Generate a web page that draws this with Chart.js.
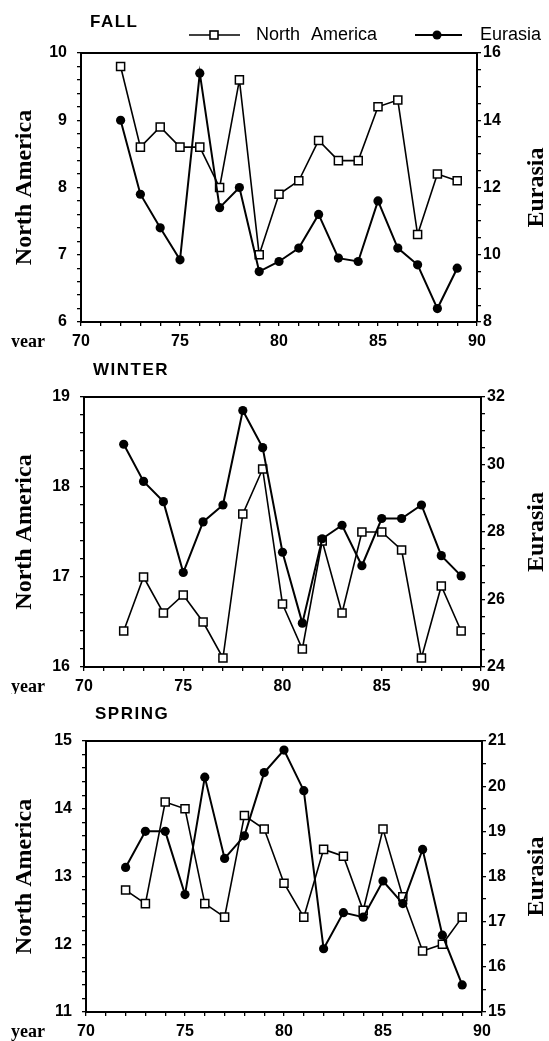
<!DOCTYPE html>
<html>
<head>
<meta charset="utf-8">
<script src="https://cdn.jsdelivr.net/npm/chart.js@4.4.1/dist/chart.umd.min.js"></script>
<style>
html, body { margin: 0; padding: 0; background: #fff; }
canvas { display: block; }
</style>
</head>
<body>
<canvas id="fall" width="549" height="347"></canvas>
<canvas id="winter" width="549" height="347"></canvas>
<canvas id="spring" width="549" height="347"></canvas>
<script>
const years = [72, 73, 74, 75, 76, 77, 78, 79, 80, 81, 82, 83, 84, 85, 86, 87, 88, 89];
const yearTicks = [70, 75, 80, 85, 90];

const fallNorthAmerica = [9.8, 8.6, 8.9, 8.6, 8.6, 8.0, 9.6, 7.0, 7.9, 8.1, 8.7, 8.4, 8.4, 9.2, 9.3, 7.3, 8.2, 8.1];
const fallEurasia = [14.0, 11.8, 10.8, 9.85, 15.4, 11.4, 12.0, 9.5, 9.8, 10.2, 11.2, 9.9, 9.8, 11.6, 10.2, 9.7, 8.4, 9.6];
const fallNATicks = [6, 7, 8, 9, 10];
const fallEUTicks = [8, 10, 12, 14, 16];

const winterNorthAmerica = [16.4, 17.0, 16.6, 16.8, 16.5, 16.1, 17.7, 18.2, 16.7, 16.2, 17.4, 16.6, 17.5, 17.5, 17.3, 16.1, 16.9, 16.4];
const winterEurasia = [30.6, 29.5, 28.9, 26.8, 28.3, 28.8, 31.6, 30.5, 27.4, 25.3, 27.8, 28.2, 27.0, 28.4, 28.4, 28.8, 27.3, 26.7];
const winterNATicks = [16, 17, 18, 19];
const winterEUTicks = [24, 26, 28, 30, 32];

const springNorthAmerica = [12.8, 12.6, 14.1, 14.0, 12.6, 12.4, 13.9, 13.7, 12.9, 12.4, 13.4, 13.3, 12.5, 13.7, 12.7, 11.9, 12.0, 12.4];
const springEurasia = [18.2, 19.0, 19.0, 17.6, 20.2, 18.4, 18.9, 20.3, 20.8, 19.9, 16.4, 17.2, 17.1, 17.9, 17.4, 18.6, 16.7, 15.6];
const springNATicks = [11, 12, 13, 14, 15];
const springEUTicks = [15, 16, 17, 18, 19, 20, 21];

const sansBold = '"Liberation Sans", Arial, sans-serif';
const narrow = '"Liberation Sans Narrow", "Liberation Sans", Arial, sans-serif';
const serif = '"Liberation Serif", "Times New Roman", serif';

// title, year label, right axis title, frame top, legend
const panelText = {
    id: 'panelText',
    afterDraw(chart, args, o) {
        const ctx = chart.ctx;
        const a = chart.chartArea;
        ctx.save();
        ctx.fillStyle = '#000';
        ctx.strokeStyle = '#000';
        ctx.lineWidth = 2;
        ctx.beginPath();
        ctx.moveTo(a.left - 1, a.top);
        ctx.lineTo(a.right + 1, a.top);
        ctx.stroke();

        ctx.textBaseline = 'middle';
        ctx.textAlign = 'left';
        ctx.font = 'bold 17px ' + sansBold;
        ctx.letterSpacing = '1.5px';
        ctx.fillText(o.title, a.left + 9, o.titleY);
        ctx.letterSpacing = '0px';

        ctx.textAlign = 'center';
        ctx.font = 'bold 18px ' + serif;
        ctx.fillText('year', 28, a.bottom + 20);

        if (o.legend) {
            ctx.font = '18px ' + sansBold;
            ctx.textAlign = 'left';
            const ly = 35;
            // North America sample
            ctx.lineWidth = 1.6;
            ctx.beginPath(); ctx.moveTo(189, ly); ctx.lineTo(240, ly); ctx.stroke();
            ctx.fillStyle = '#fff';
            ctx.fillRect(210, ly - 4, 8, 8);
            ctx.strokeRect(210, ly - 4, 8, 8);
            ctx.fillStyle = '#000';
            ctx.wordSpacing = '6px';
            ctx.fillText('North America', 256, ly);
            ctx.wordSpacing = '0px';
            // Eurasia sample
            ctx.lineWidth = 2;
            ctx.beginPath(); ctx.moveTo(415, ly); ctx.lineTo(462, ly); ctx.stroke();
            ctx.beginPath(); ctx.arc(437, ly, 4.5, 0, Math.PI * 2); ctx.fill();
            ctx.fillText('Eurasia', 480, ly);
        }

        ctx.font = 'bold 24px ' + serif;
        ctx.textAlign = 'center';
        ctx.translate(537, (a.top + a.bottom) / 2);
        ctx.rotate(-Math.PI / 2);
        ctx.fillText('Eurasia', 0, 0);
        ctx.restore();
    }
};

const onlyLabels = (list) => (v) => {
    const r = Math.round(v * 10) / 10;
    return list.includes(r) ? String(r) : '';
};

function makePanel(id, p) {
    const ctx = document.getElementById(id).getContext('2d');
    return new Chart(ctx, {
        type: 'line',
        data: {
            datasets: [{
                label: 'North America',
                data: years.map((y, i) => ({x: y, y: p.na[i]})),
                yAxisID: 'y',
                order: 2,
                borderColor: '#000',
                borderWidth: 1.6,
                pointStyle: 'rect',
                pointRadius: 5.7,
                pointBackgroundColor: '#fff',
                pointBorderColor: '#000',
                pointBorderWidth: 1.5,
                tension: 0
            }, {
                label: 'Eurasia',
                data: years.map((y, i) => ({x: y, y: p.eu[i]})),
                yAxisID: 'y1',
                order: 1,
                borderColor: '#000',
                borderWidth: 2,
                pointStyle: 'circle',
                pointRadius: 4.6,
                pointBackgroundColor: '#000',
                pointBorderColor: '#000',
                pointBorderWidth: 0,
                tension: 0
            }]
        },
        options: {
            responsive: false,
            animation: false,
            events: [],
            layout: { padding: { top: p.area.top, left: 0, right: 0, bottom: 0 } },
            plugins: {
                legend: { display: false },
                tooltip: { enabled: false },
                panelText: { title: p.title, titleY: p.titleY, legend: p.legend }
            },
            scales: {
                x: {
                    type: 'linear',
                    min: 70,
                    max: 90,
                    afterFit: (s) => { s.height = 347 - p.area.bottom; },
                    grid: { drawOnChartArea: false, drawTicks: true, tickLength: 4, color: '#000', lineWidth: 1.3 },
                    border: { display: true, color: '#000', width: 2 },
                    ticks: {
                        stepSize: 1,
                        autoSkip: false,
                        maxRotation: 0,
                        padding: 6,
                        color: '#000',
                        font: { family: sansBold, size: 16, weight: 'bold' },
                        callback: onlyLabels(yearTicks)
                    }
                },
                y: {
                    position: 'left',
                    min: p.naRange[0],
                    max: p.naRange[1],
                    afterFit: (s) => { s.width = p.area.left; },
                    grid: { drawOnChartArea: false, drawTicks: true, tickLength: 4, color: '#000', lineWidth: 1.3 },
                    border: { display: true, color: '#000', width: 2 },
                    title: {
                        display: true,
                        text: 'North America',
                        color: '#000',
                        padding: { top: 10, bottom: 0 },
                        font: { family: serif, size: 24, weight: 'bold' }
                    },
                    ticks: {
                        stepSize: 0.2,
                        autoSkip: false,
                        padding: 10,
                        color: '#000',
                        font: { family: narrow, size: 16, weight: 'bold' },
                        callback: onlyLabels(p.naTicks)
                    }
                },
                y1: {
                    position: 'right',
                    min: p.euRange[0],
                    max: p.euRange[1],
                    afterFit: (s) => { s.width = 549 - p.area.right; },
                    grid: { drawOnChartArea: false, drawTicks: true, tickLength: 4, color: '#000', lineWidth: 1.3 },
                    border: { display: true, color: '#000', width: 2 },
                    ticks: {
                        stepSize: 0.5,
                        autoSkip: false,
                        padding: 2,
                        color: '#000',
                        font: { family: narrow, size: 16, weight: 'bold' },
                        callback: onlyLabels(p.euTicks)
                    }
                }
            }
        },
        plugins: [panelText]
    });
}

makePanel('fall', {
    title: 'FALL', titleY: 22, legend: true,
    na: fallNorthAmerica, eu: fallEurasia,
    naRange: [6, 10], euRange: [8, 16],
    naTicks: fallNATicks, euTicks: fallEUTicks,
    area: { left: 81, right: 477, top: 53, bottom: 322 }
});

makePanel('winter', {
    title: 'WINTER', titleY: 23, legend: false,
    na: winterNorthAmerica, eu: winterEurasia,
    naRange: [16, 19], euRange: [24, 32],
    naTicks: winterNATicks, euTicks: winterEUTicks,
    area: { left: 84, right: 481, top: 50, bottom: 320 }
});

makePanel('spring', {
    title: 'SPRING', titleY: 20, legend: false,
    na: springNorthAmerica, eu: springEurasia,
    naRange: [11, 15], euRange: [15, 21],
    naTicks: springNATicks, euTicks: springEUTicks,
    area: { left: 86, right: 482, top: 47, bottom: 318 }
});
</script>
</body>
</html>
